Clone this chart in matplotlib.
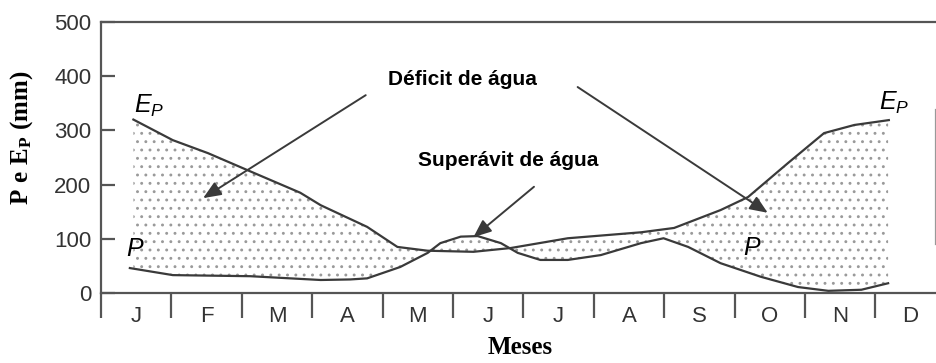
import numpy as np
import matplotlib
matplotlib.use("Agg")
import matplotlib.pyplot as plt

# ---------------------------------------------------------------- data
months = ['J', 'F', 'M', 'A', 'M', 'J', 'J', 'A', 'S', 'O', 'N', 'D']

# month position (0 = start of Jan) and value in mm
ep_x = [0.46, 1.02, 1.52, 2.11, 2.83, 3.12, 3.78, 4.21, 4.64, 5.29, 5.82,
        6.63, 7.67, 8.14, 8.80, 9.19, 9.76, 10.27, 10.70, 11.19]
ep_y = [320, 282, 258, 225, 185, 162, 122, 85, 78, 76, 83,
        101, 112, 120, 153, 177, 240, 295, 310, 319]

p_x = [0.41, 1.02, 2.12, 3.12, 3.54, 3.78, 4.25, 4.64, 4.82, 5.11, 5.35,
       5.68, 5.92, 6.24, 6.63, 7.10, 7.67, 7.99, 8.34, 8.80, 9.37, 9.90,
       10.33, 10.80, 11.18]
p_y = [46, 33, 31, 24, 25, 27, 48, 74, 92, 104, 105,
       92, 74, 61, 61, 70, 92, 101, 85, 55, 30, 11,
       4, 6, 18]

# ---------------------------------------------------------------- style
plt.rcParams['mathtext.fontset'] = 'custom'
plt.rcParams['mathtext.it'] = 'Liberation Sans:italic'
plt.rcParams['mathtext.rm'] = 'Liberation Sans'
plt.rcParams['mathtext.bf'] = 'Liberation Serif:bold'
plt.rcParams['hatch.color'] = '#9a9a9a'
plt.rcParams['hatch.linewidth'] = 0.9

line_c = '#3a3a3a'
frame_c = '#555555'

fig = plt.figure(figsize=(9.36, 3.63), dpi=100)
ax = fig.add_axes([101/936, 1-293/363, 835/936, 271/363])

ax.plot(ep_x, ep_y, color=line_c, lw=1.6)
ax.plot(p_x, p_y, color=line_c, lw=1.6)

# stippled area between the curves (same grid for both)
grid = np.union1d(ep_x, p_x)
grid = grid[(grid >= max(ep_x[0], p_x[0])) & (grid <= min(ep_x[-1], p_x[-1]))]
ax.fill_between(grid, np.interp(grid, ep_x, ep_y), np.interp(grid, p_x, p_y),
                facecolor='none', edgecolor='#9a9a9a', hatch='..', lw=0)

# ---------------------------------------------------------------- axes
ax.set_xlim(0, 11.86)
ax.set_ylim(0, 500)
ax.set_yticks(range(0, 501, 100))
ax.set_xticks(np.arange(12) + 0.5)
ax.set_xticklabels(months)
ax.set_xticks(range(0, 12), minor=True)

ax.tick_params(axis='x', which='major', length=0, pad=9,
               labelsize=16, labelcolor='#333333')
ax.tick_params(axis='x', which='minor', direction='out', length=18,
               width=1.6, color=frame_c)
ax.tick_params(axis='y', direction='in', length=10, width=1.6, color=frame_c,
               pad=7, labelsize=16, labelcolor='#333333')
for lab in ax.get_xticklabels() + ax.get_yticklabels():
    lab.set_family('Liberation Sans')

for s in ['left', 'top', 'bottom', 'right']:
    ax.spines[s].set_color(frame_c)
    ax.spines[s].set_linewidth(1.6)
ax.spines['right'].set_bounds(90, 338)
ax.spines['right'].set_color('#999999')

fig.text(22/936, 1-138/363, r'$\mathbf{P\ e\ E_P\ (mm)}$', fontsize=18,
         rotation=90, ha='center', va='center')
fig.text(520/936, 1-348/363, 'Meses', fontsize=18, family='Liberation Serif',
         fontweight='bold', ha='center', va='center')

# ---------------------------------------------------------------- labels
ax.text(0.68, 345, r'$E_P$', fontsize=18, ha='center', va='center')
ax.text(11.27, 350, r'$E_P$', fontsize=18, ha='center', va='center')
ax.text(0.48, 82, r'$P$', fontsize=18, ha='center', va='center')
ax.text(9.25, 83, r'$P$', fontsize=18, ha='center', va='center')

ax.text(5.14, 393, 'Déficit de água', fontsize=15, fontweight='bold',
        family='Liberation Sans', ha='center', va='center')
ax.text(5.78, 245, 'Superávit de água', fontsize=15, fontweight='bold',
        family='Liberation Sans', ha='center', va='center')

arrow = dict(arrowstyle='-|>,head_length=0.6,head_width=0.25', color=line_c,
             lw=1.4, mutation_scale=18, shrinkA=0, shrinkB=0)
ax.annotate('', xy=(1.45, 175), xytext=(3.76, 365), arrowprops=arrow)
ax.annotate('', xy=(9.47, 148), xytext=(6.77, 380), arrowprops=arrow)
ax.annotate('', xy=(5.29, 103), xytext=(6.15, 196), arrowprops=arrow)

fig.savefig('out.png', dpi=100)
